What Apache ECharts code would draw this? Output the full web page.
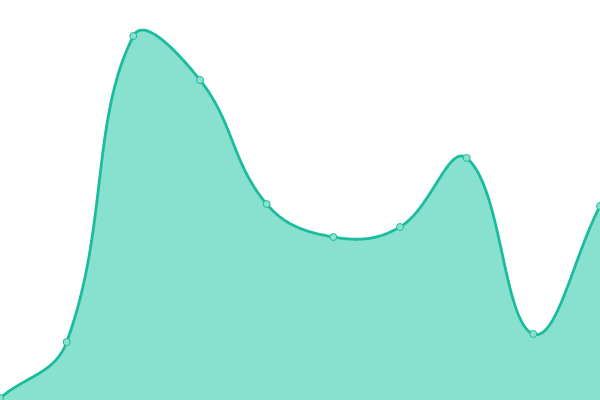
<!DOCTYPE html>
<html><head><meta charset="utf-8">
<script src="https://cdn.jsdelivr.net/npm/echarts@6/dist/echarts.min.js"></script>
<style>html,body{margin:0;padding:0;}#c{width:600px;height:400px;}</style>
</head><body><div id="c"></div>
<script>
var categories = ['1','2','3','4','5','6','7','8','9','10'];
var values = [2, 58, 364, 320, 196, 163, 173, 242, 66, 194];
var TENSION = 0.4;

function splinePoints(pts) {
  // Cardinal-style spline (distance weighted), sampled to a polyline
  var n = pts.length, cps = [];
  for (var i = 0; i < n; i++) {
    var cur = pts[i], prev = pts[Math.max(0, i - 1)], next = pts[Math.min(n - 1, i + 1)];
    var d01 = Math.hypot(cur[0] - prev[0], cur[1] - prev[1]);
    var d12 = Math.hypot(next[0] - cur[0], next[1] - cur[1]);
    var s = d01 + d12 || 1;
    var fa = TENSION * d01 / s, fb = TENSION * d12 / s;
    var vx = next[0] - prev[0], vy = next[1] - prev[1];
    cps.push({
      p: [cur[0] - fa * vx, cur[1] - fa * vy],
      n: [cur[0] + fb * vx, cur[1] + fb * vy]
    });
  }
  var out = [pts[0].slice()];
  for (var j = 0; j < n - 1; j++) {
    var p0 = pts[j], c1 = cps[j].n, c2 = cps[j + 1].p, p1 = pts[j + 1];
    for (var k = 1; k <= 40; k++) {
      var t = k / 40, u = 1 - t;
      var a = u * u * u, b = 3 * u * u * t, c = 3 * u * t * t, d = t * t * t;
      out.push([a * p0[0] + b * c1[0] + c * c2[0] + d * p1[0],
                a * p0[1] + b * c1[1] + c * c2[1] + d * p1[1]]);
    }
  }
  return out;
}

var chart = echarts.init(document.getElementById('c'));
chart.setOption({
  animation: false,
  grid: {left: 0, right: 0, top: 0, bottom: 0},
  xAxis: {type: 'category', data: categories, boundaryGap: false, show: false},
  yAxis: {type: 'value', min: 0, max: 400, show: false},
  series: [{
    type: 'custom',
    coordinateSystem: 'cartesian2d',
    data: values.map(function (v, i) { return [i, v]; }),
    z: 2,
    clip: false,
    renderItem: function (params, api) {
      if (params.dataIndex !== 0) return null;
      var pts = values.map(function (v, i) { return api.coord([i, v]); });
      var curve = splinePoints(pts);
      var base0 = api.coord([0, 0]), base1 = api.coord([values.length - 1, 0]);
      var poly = curve.concat([[base1[0], base1[1]], [base0[0], base0[1]]]);
      return {
        type: 'group',
        children: [
          {type: 'polygon', shape: {points: poly}, style: {fill: '#88e0cf', stroke: null}},
          {type: 'polyline', shape: {points: curve}, style: {fill: null, stroke: '#1abc9c', lineWidth: 2.8, lineJoin: 'round'}}
        ]
      };
    }
  }, {
    type: 'line',
    data: values,
    z: 3,
    symbol: 'circle',
    symbolSize: 7,
    lineStyle: {width: 0, opacity: 0},
    itemStyle: {color: '#8ce0cf', borderColor: '#1abc9c', borderWidth: 1}
  }]
});
</script></body></html>
